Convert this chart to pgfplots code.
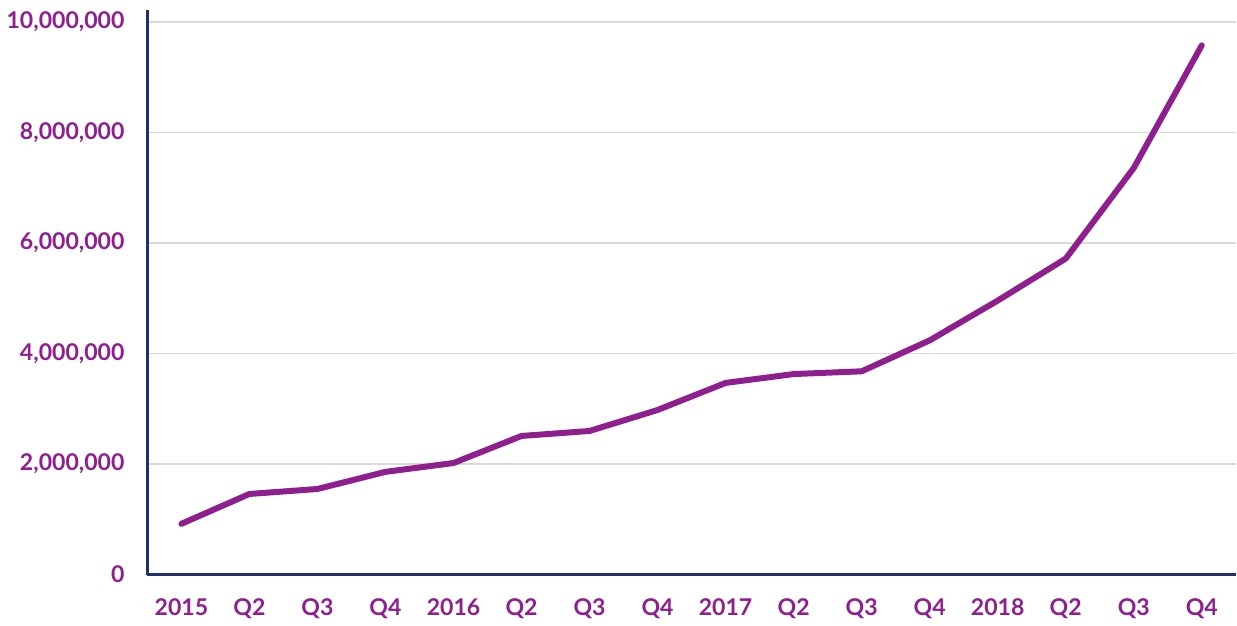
\documentclass[border=0pt]{standalone}
\usepackage{pgfplots}
\pgfplotsset{compat=1.18}
\usepackage{fontspec}
\setmainfont{Lato}
\definecolor{purp}{HTML}{8F1F8F}
\definecolor{navy}{HTML}{1F2F6F}
\definecolor{gridc}{HTML}{D9D9D9}
\begin{document}
\begin{tikzpicture}
\begin{axis}[
  scale only axis,
  width=545.5bp, height=283bp,
  xmin=-0.5, xmax=15.5,
  ymin=0, ymax=10220000,
  axis x line*=bottom, axis y line*=left,
  axis line style={navy, line width=1.2bp},
  ytick={0,2000000,4000000,6000000,8000000,10000000},
  xtick={0,...,15},
  xticklabels={2015,Q2,Q3,Q4,2016,Q2,Q3,Q4,2017,Q2,Q3,Q4,2018,Q2,Q3,Q4},
  major tick length=0pt,
  ymajorgrids,
  grid style={gridc, line width=0.8bp},
  scaled y ticks=false,
  /pgf/number format/.cd, fixed, 1000 sep={,}, assume math mode=true,
  /pgfplots/.cd,
  tick label style={font=\fontsize{11.6}{14}\selectfont\bfseries, text=purp},
  yticklabel style={xshift=-8bp},
  xticklabel style={yshift=-8.5bp},
  clip=false,
]
\addplot[purp, line width=3bp, line cap=round, line join=round] coordinates {
(0,920000) (1,1460000) (2,1550000) (3,1860000) (4,2020000) (5,2510000)
(6,2600000) (7,2980000) (8,3470000) (9,3630000) (10,3680000) (11,4240000)
(12,4960000) (13,5720000) (14,7360000) (15,9580000)
};
\end{axis}
\path[use as bounding box] (current axis.south west) ++(-73bp,-22.5bp) rectangle ([yshift=5bp]current axis.north east);
\end{tikzpicture}
\end{document}
